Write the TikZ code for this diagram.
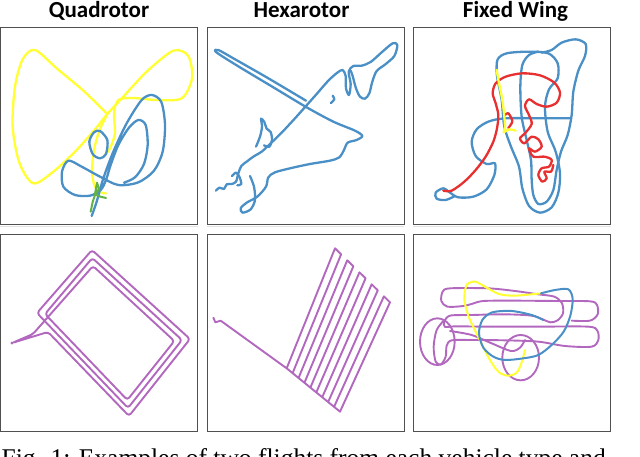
\documentclass[tikz,border=0pt]{standalone}
\usepackage{fontspec}
\setmainfont{Liberation Serif}
\newfontfamily\titlefont{Carlito}
\usetikzlibrary{positioning}

\definecolor{trkyellow}{RGB}{255,255,51}
\definecolor{trkblue}{RGB}{74,144,198}
\definecolor{trkred}{RGB}{232,48,48}
\definecolor{trkgreen}{RGB}{98,178,72}
\definecolor{trkpurple}{RGB}{178,104,190}
\definecolor{boxgray}{RGB}{80,80,80}

\begin{document}
\begin{tikzpicture}[x=1pt, y=-1pt,
    box/.style={draw=boxgray, line width=0.9pt, minimum width=197pt, minimum height=197pt, inner sep=0pt},
    ttl/.style={font=\titlefont\bfseries\fontsize{23}{26}\selectfont, anchor=base, inner sep=0pt},
    tr/.style={line width=2.3pt, line cap=round, line join=round},
    trp/.style={tr, line width=1.9pt, trkpurple}]
\useasboundingbox (0,0) rectangle (640,457);

% panels
\node[box] (q1) at (99,125.5) {};
\node[box] (h1) at (305.5,125.5) {};
\node[box] (f1) at (512,125.5) {};
\node[box] (q2) at (99,332.5) {};
\node[box] (h2) at (305.5,332.5) {};
\node[box] (f2) at (512,332.5) {};
\foreach \p in {q1,h1,f1}
  \draw[gray!22, line width=1pt] ([yshift=-2.5pt]\p.south west) -- ([yshift=-2.5pt]\p.south east);

\node[ttl] (tq) at (99,17.5) {Quadrotor};
\node[ttl] (th) at (301.5,17.5) {Hexarotor};
\node[ttl] (tf) at (515.5,17.5) {Fixed Wing};

% quadrotor, top
\begin{scope}[shift={(0,0)}, scale=1/3]
\draw[tr, trkyellow] plot[smooth] coordinates {(322,342) (250,272) (170,205) (105,150) (68,178) (45,260) (38,380) (58,488) (100,550) (160,515) (230,450) (290,382) (322,342) (370,290) (440,215) (520,152) (565,168) (576,235) (545,295) (470,300) (400,294) (355,300) (342,340) (345,400) (330,445) (312,468)};
\draw[tr, trkyellow] plot[smooth] coordinates {(322,342) (298,392) (282,450) (276,515) (285,560) (305,578) (318,580)};
\draw[tr, trkblue] plot[smooth] coordinates {(275,648) (290,605) (310,535) (340,455) (380,370) (425,300) (456,285) (484,306) (495,375) (488,455) (462,512) (415,547) (355,555) (300,530) (245,500) (205,482) (186,515) (190,560) (225,585) (270,587) (302,570) (318,540) (332,495) (355,435) (387,383) (415,360) (437,375) (443,435) (432,492) (405,532) (372,548)};
\draw[tr, trkblue] plot[smooth cycle] coordinates {(300,393) (322,420) (318,462) (300,475) (278,462) (268,425) (282,397)};
\draw[tr, trkgreen, line width=2pt] (272,635) -- (278,606) -- (284,588) -- (291,548) -- (297,566) -- (287,584) -- (301,590) -- (318,594);
\end{scope}

% hexarotor, top
\begin{scope}[shift={(200,0)}, scale=1/3]
\draw[tr, trkblue] plot[smooth] coordinates {(318,302) (200,232) (100,175) (55,150) (48,156) (110,196) (220,262) (320,322) (400,365) (465,392) (487,408) (470,420) (443,428) (432,450) (418,472) (390,482) (330,492) (270,505) (225,517) (205,532) (198,560) (172,590) (140,608) (122,625) (128,638) (152,628) (165,600) (162,560) (150,528)};
\draw[tr, trkblue] plot[smooth] coordinates {(48,572) (58,563) (72,567) (80,553) (95,552) (108,545) (115,520) (124,498) (140,485) (160,470) (185,455) (210,432) (245,398) (285,355) (318,318) (350,282) (385,242) (412,218) (428,210) (437,228) (438,265) (447,285) (452,252) (446,215) (460,198) (485,197) (512,186) (545,157) (578,130) (592,135) (583,168) (556,193) (530,213) (517,245) (508,280) (495,296) (480,290) (468,265) (458,228) (452,212)};
\draw[tr, trkblue] plot[smooth] coordinates {(168,440) (180,410) (186,380) (183,356) (193,366) (200,386) (212,396) (216,420) (208,440) (192,436)};
\draw[tr, trkblue] plot[smooth] coordinates {(96,528) (108,518) (118,530) (124,552) (112,556)};
\draw[tr, trkblue] plot[smooth] coordinates {(398,287) (403,298) (393,309)};
\end{scope}

% fixed wing, top
\begin{scope}[shift={(405,0)}, scale=1/3]
\draw[tr, trkblue] plot[smooth] coordinates {(150,588) (122,600) (95,596) (92,578) (115,565) (135,578) (160,592) (205,590) (245,568) (268,525) (270,490) (245,492) (212,468) (200,425) (215,388) (250,365) (300,355) (400,355) (498,355)};
\draw[tr, trkblue] plot[smooth cycle] coordinates {(275,218) (278,178) (305,160) (370,155) (430,160) (458,190) (458,235) (432,268) (420,320) (428,395) (452,455) (465,520) (460,578) (440,622) (405,638) (372,618) (352,565) (342,500) (318,440) (298,380) (290,300) (280,250)};
\draw[tr, trkblue] plot[smooth] coordinates {(410,158) (440,150) (470,128) (512,118) (542,132) (540,168) (520,212) (505,275) (500,345) (488,405) (468,455) (455,510) (445,570) (425,605) (400,612) (385,585) (380,540) (378,480) (365,420) (350,350) (346,260) (352,195) (372,165) (400,155)};
\draw[tr, trkred] plot[smooth] coordinates {(115,572) (140,572) (178,545) (212,510) (242,470) (265,425) (276,385) (280,345) (272,310) (263,280) (272,250) (302,230) (352,220) (405,226) (448,248) (465,278) (455,308) (425,320) (395,312) (372,298) (360,318) (372,345) (380,372) (360,400) (345,415) (358,430) (380,410) (400,418) (410,440) (390,455) (372,445) (385,470) (420,470) (440,480) (432,500) (410,505) (400,525) (412,545) (425,535) (418,515) (438,515) (445,495)};
\draw[tr, trkred] plot[smooth] coordinates {(298,347) (310,340) (322,364) (310,384)};
\draw[tr, trkyellow] plot[smooth] coordinates {(275,210) (282,250) (292,300) (298,350) (300,385) (296,397) (312,388) (332,392)};
\end{scope}

% quadrotor, bottom
\begin{scope}[shift={(0,225)}, scale=1/3]
\draw[trp, rounded corners=3pt] (36,354) -- (144,321) -- (387,573) -- (570,342) -- (276,75) -- (111,264) -- (384,549) -- (546,345) -- (277,99) -- (135,267) -- (382,525) -- (523,348) -- (279,123) -- (99,327) -- cycle;
\fill[trkpurple] (36,354) circle (5);
\end{scope}

% hexarotor, bottom
\begin{scope}[shift={(200,225)}, scale=1/3]
\draw[trp] (40,278) -- (46,292) -- (62,287) -- (260,430) -- (420,560) -- (570,232) -- (551.7,214) -- (402.2,545.6) -- (384.4,531.1) -- (533.3,196) -- (515,178) -- (366.7,516.7) -- (348.9,502.2) -- (496.7,160) -- (478.3,142) -- (331.1,487.8) -- (313.3,473.3) -- (460,124) -- (441.7,106) -- (295.6,458.9) -- (277.8,444.4) -- (423.3,88) -- (405,70) -- (260,430);
\end{scope}

% fixed wing, bottom
\begin{scope}[shift={(405,225)}, scale=1/3]
\draw[trp] plot[smooth] coordinates {(500,287) (555,287) (578,268) (576,240) (556,229) (460,228) (320,227) (235,228) (203,236) (175,243) (127,245) (109,228) (113,200) (135,190) (250,190) (330,198) (400,208) (448,215) (471,235) (474,265) (458,286) (437,292) (415,284) (380,272) (300,268) (200,270) (135,272) (118,290) (120,306) (150,304) (250,305) (400,305) (550,305) (577,317) (580,345) (560,365) (480,363) (400,350) (300,346) (200,345) (140,346) (125,362) (122,395) (108,418) (92,410) (86,365) (95,315) (118,285)};
\draw[trp] (97,350) ellipse [x radius=52, y radius=70];
\draw[trp] (347,398) ellipse [x radius=55, y radius=68];
\draw[trp] plot[smooth] coordinates {(135,318) (200,330) (260,355) (318,378) (345,368) (360,345)};
\draw[tr, trkyellow, line width=2pt] plot[smooth] coordinates {(408,205) (330,212) (282,207) (240,185) (210,170) (185,180) (178,225) (193,280) (222,340) (252,400) (280,440) (308,452) (335,443) (350,412) (360,375)};
\draw[tr, trkblue, line width=2pt] plot[smooth] coordinates {(408,205) (450,195) (490,193) (503,222) (496,272) (476,320) (440,360) (400,390) (355,400) (300,405) (265,395) (235,368) (222,325) (232,285) (262,262) (320,258) (380,270) (415,285)};
\end{scope}

% caption, cut by the page edge
\begin{scope}
\clip (0,0) rectangle (640,457);
\node[anchor=base west, inner sep=0pt, font=\fontsize{25.5}{30}\selectfont] (cap) at (1.5,466) {Fig. 1: Examples of two flights from each vehicle type and};
\end{scope}
\end{tikzpicture}
\end{document}
